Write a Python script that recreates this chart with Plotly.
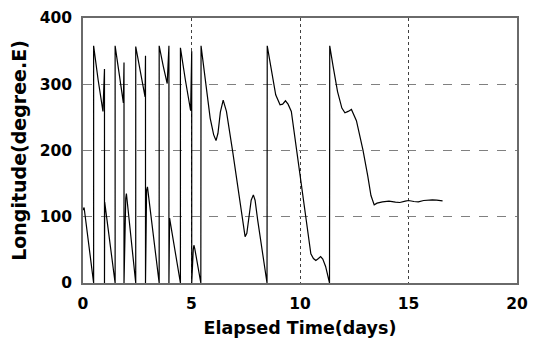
import plotly.graph_objects as go

# Elapsed time (days) and longitude (degree E).
elapsed_days = [
    0.00, 0.05, 0.49,
    0.49, 0.70, 0.92, 0.99, 0.99,
    1.00, 1.48,
    1.48, 1.68, 1.86, 1.89, 1.89,
    1.97, 2.00, 2.43,
    2.43, 2.65, 2.86, 2.88, 2.88,
    2.93, 2.97, 3.51,
    3.51, 3.70, 3.88, 3.96, 3.96,
    3.99, 4.49,
    4.49, 4.72, 4.96, 5.01, 5.01,
    5.08, 5.11, 5.15, 5.43,
    5.44, 5.63, 5.86, 6.02, 6.13, 6.22, 6.33, 6.46, 6.61, 6.90, 7.20, 7.40, 7.47, 7.55,
    7.65, 7.75, 7.85, 7.93, 8.05, 8.20, 8.35, 8.48,
    8.49, 8.73, 8.88, 9.08, 9.20, 9.33, 9.45, 9.60, 9.98, 10.30, 10.50, 10.62, 10.73,
    10.85, 10.95, 11.05, 11.18, 11.36,
    11.37, 11.52, 11.73, 11.93, 12.07, 12.22, 12.37, 12.60, 12.90, 13.12, 13.27, 13.42,
    13.55, 13.80, 14.10, 14.40, 14.60, 14.85, 15.00, 15.25, 15.45, 15.70, 15.90, 16.10,
    16.30, 16.57,
]
longitude_deg = [
    110, 114, 0,
    358, 306, 259, 323, 0,
    122, 0,
    358, 313, 272, 333, 0,
    128, 135, 0,
    357, 318, 281, 343, 0,
    140, 145, 0,
    358, 327, 301, 358, 0,
    98, 0,
    355, 306, 260, 350, 0,
    50, 57, 52, 0,
    358, 308, 249, 224, 215, 226, 258, 276, 259, 198, 131, 86, 70, 75,
    100, 125, 133, 125, 95, 60, 28, 0,
    358, 308, 284, 269, 270, 275, 270, 259, 168, 92, 44, 37, 34,
    37, 40, 36, 25, 0,
    358, 328, 289, 264, 257, 259, 262, 245, 201, 162, 132, 118,
    120.5, 122.5, 123.5, 122, 121.5, 123.5, 124.5, 123, 122.5, 124.5, 125.5, 125.5,
    125, 124,
]

x_ticks = [0, 5, 10, 15, 20]
y_ticks = [0, 100, 200, 300, 400]
x_title = "Elapsed Time(days)"
y_title = "Longitude(degree.E)"

fig = go.Figure()
fig.add_trace(go.Scatter(
    x=elapsed_days, y=longitude_deg, mode="lines",
    line=dict(color="black", width=1.2),
    showlegend=False, hoverinfo="skip",
))

tick_font = dict(family="DejaVu Sans", size=15.5, color="black", weight="bold")
title_font = dict(family="DejaVu Sans", size=17.5, color="black", weight="bold")

fig.update_layout(
    width=537, height=344,
    margin=dict(l=83, r=9, t=14, b=57),
    paper_bgcolor="white", plot_bgcolor="white",
    showlegend=False,
)
fig.update_xaxes(
    range=[0, 20], tickvals=x_ticks, ticktext=[str(v) for v in x_ticks],
    showgrid=True, gridcolor="#404040", griddash="dot", gridwidth=1,
    showline=True, mirror=True, linecolor="#6a6a6a", linewidth=1.5,
    zeroline=False, ticks="", tickfont=tick_font, ticklabelstandoff=6,
    title=dict(text=x_title, font=title_font, standoff=9),
)
fig.update_yaxes(
    range=[0, 400], tickvals=y_ticks, ticktext=[str(v) for v in y_ticks],
    showgrid=True, gridcolor="#808080", griddash="dash", gridwidth=1,
    showline=True, mirror=True, linecolor="#6a6a6a", linewidth=1.5,
    zeroline=False, ticks="", tickfont=tick_font, ticklabelstandoff=6,
    title=dict(text=y_title, font=dict(family="DejaVu Sans", size=19, color="black", weight="bold"), standoff=8),
)

fig.write_html(
    "out.html",
    config={"displayModeBar": False},
    post_script="document.body.style.margin='0';document.body.style.overflow='hidden';",
)
